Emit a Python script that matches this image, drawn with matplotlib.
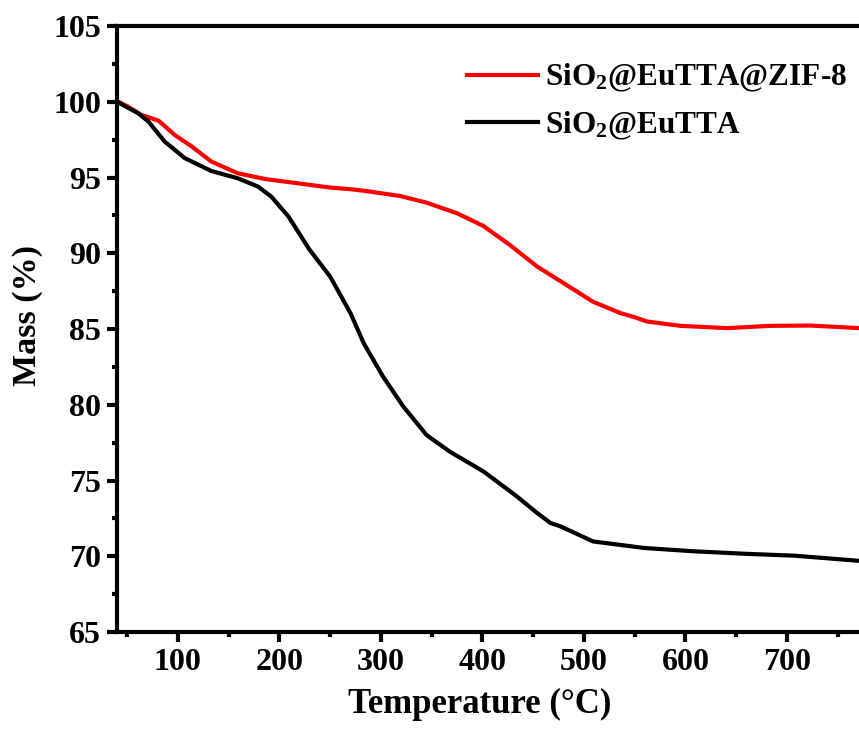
import numpy as np
import matplotlib
matplotlib.use('Agg')
import matplotlib.pyplot as plt
from matplotlib.ticker import MultipleLocator

plt.rcParams['font.family'] = 'Liberation Serif'
plt.rcParams['font.weight'] = 'bold'
plt.rcParams['mathtext.fontset'] = 'custom'
plt.rcParams['mathtext.rm'] = 'Liberation Serif:bold'
plt.rcParams['mathtext.bf'] = 'Liberation Serif:bold'
plt.rcParams['mathtext.it'] = 'Liberation Serif:bold'

# TGA curves, temperature in degC and remaining mass in %
temp_zif = [40, 51, 64, 81, 97, 113, 133, 159, 186, 218, 251, 270, 284, 319, 345,
            375, 401, 427, 454, 483, 509, 536, 549, 562, 595, 641, 684, 723, 771]
mass_zif = [100.05, 99.67, 99.13, 98.75, 97.8, 97.08, 96.05, 95.28, 94.9, 94.62, 94.33, 94.23, 94.12, 93.78, 93.34,
            92.64, 91.8, 90.55, 89.12, 87.9, 86.8, 86.05, 85.8, 85.5, 85.21, 85.06, 85.21, 85.23, 85.06]

temp_bare = [40, 61, 71, 87, 107, 133, 159, 179, 192, 209, 229, 250, 270, 283, 302,
             322, 345, 368, 401, 434, 454, 467, 477, 509, 559, 608, 657, 707, 771]
mass_bare = [100.0, 99.24, 98.69, 97.37, 96.27, 95.43, 94.95, 94.4, 93.74, 92.42, 90.3, 88.46, 86.05, 84.07, 81.87,
             79.89, 78.0, 76.9, 75.6, 73.95, 72.85, 72.2, 71.97, 70.98, 70.55, 70.33, 70.17, 70.04, 69.7]

fig = plt.figure(figsize=(8.59, 7.31), dpi=100)
ax = fig.add_axes([0.1362, 0.1354, 0.8638, 0.8290])

ax.plot(temp_zif, mass_zif, color='#ff0000', lw=3, label=r'SiO$_2$@EuTTA@ZIF-8')
ax.plot(temp_bare, mass_bare, color='black', lw=3, label=r'SiO$_2$@EuTTA')

ax.set_xlim(40, 771)
ax.set_ylim(65, 105)
ax.xaxis.set_major_locator(MultipleLocator(100))
ax.xaxis.set_minor_locator(MultipleLocator(50))
ax.yaxis.set_major_locator(MultipleLocator(5))
ax.yaxis.set_minor_locator(MultipleLocator(2.5))
ax.tick_params(which='major', length=7.5, width=3, labelsize=23, pad=4)
ax.tick_params(which='minor', length=3.5, width=3)
ax.tick_params(axis='x', top=False, direction='out')
ax.tick_params(axis='y', right=False, direction='out')

for side in ['left', 'bottom', 'top']:
    ax.spines[side].set_linewidth(3)
ax.spines['right'].set_visible(False)

ax.set_xlabel('Temperature (°C)', fontsize=25, fontweight='bold')
ax.set_ylabel('Mass (%)', fontsize=24.5, fontweight='bold')
ax.xaxis.set_label_coords(0.489, -0.092)
ax.yaxis.set_label_coords(-0.0997, 0.523)

ax.legend(loc='upper left', bbox_to_anchor=(0.434, 0.987), frameon=False,
          fontsize=22.5, handlelength=2.27, handletextpad=0.22, labelspacing=0.5)

fig.savefig('out.png', dpi=100)
